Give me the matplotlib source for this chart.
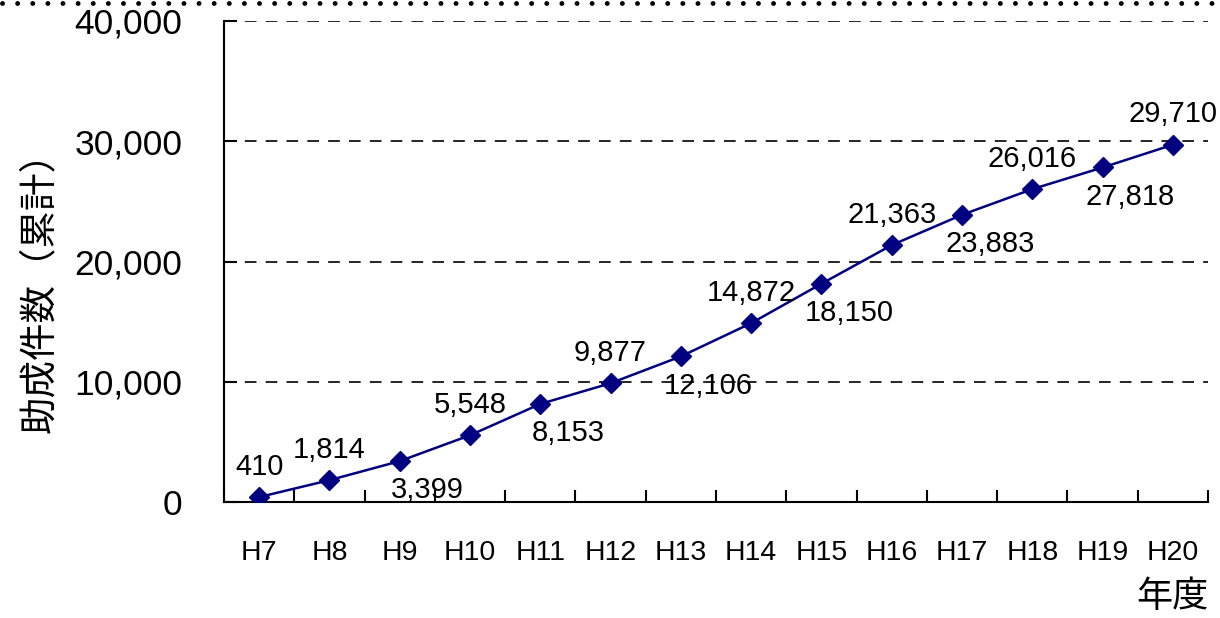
import matplotlib
matplotlib.use("Agg")
import matplotlib.pyplot as plt
from matplotlib.lines import Line2D
from matplotlib.ticker import FuncFormatter, FixedLocator

plt.rcParams["font.family"] = ["Liberation Sans", "Noto Sans CJK JP", "DejaVu Sans"]

years = ["H7", "H8", "H9", "H10", "H11", "H12", "H13", "H14", "H15", "H16", "H17", "H18", "H19", "H20"]
counts = [410, 1814, 3399, 5548, 8153, 9877, 12106, 14872, 18150, 21363, 23883, 26016, 27818, 29710]
label_above = [True, True, False, True, False, True, False, True, False, True, False, True, False, True]

NAVY = "#000080"

fig = plt.figure(figsize=(12.2, 6.18), dpi=100)
ax = fig.add_axes([224 / 1220, 1 - 502 / 618, (1208 - 224) / 1220, (502 - 21) / 618])

x = list(range(len(years)))
ax.plot(x, counts, color=NAVY, linewidth=1.8, marker="D", markersize=10, zorder=3)

# labels alternate above / below-right of the points
for i, (v, up) in enumerate(zip(counts, label_above)):
    off = (0, 22) if up else (20, -21)
    ax.annotate(f"{v:,}", (i, v), textcoords="offset points",
                xytext=off, ha="center", va="center",
                fontsize=21, color="black", zorder=4)

ax.set_xlim(-0.5, len(years) - 0.5)
ax.set_ylim(0, 40000)
ax.set_yticks([0, 10000, 20000, 30000, 40000])
ax.yaxis.set_major_formatter(FuncFormatter(lambda v, p: f"{int(v):,}"))
ax.set_xticks(x)
ax.set_xticklabels(years)
ax.xaxis.set_minor_locator(FixedLocator([k + 0.5 for k in range(-1, len(years))]))

ax.tick_params(axis="x", which="major", length=0, pad=27, labelsize=20.5)
ax.tick_params(axis="x", which="minor", direction="in", length=8.5, width=1.5)
ax.tick_params(axis="y", direction="in", length=9, width=1.5, pad=30, labelsize=25.5)

for v in [10000, 20000, 30000, 40000]:
    ax.axhline(v, color="black", linestyle=(0, (7, 5.5)), linewidth=1.2, zorder=1)

ax.spines["top"].set_visible(False)
ax.spines["right"].set_visible(False)
ax.spines["left"].set_linewidth(1.5)
ax.spines["bottom"].set_linewidth(1.5)

fig.text(40 / 1220, 1 - 283 / 618, "助成件数（累計）", rotation=90, ha="center", va="center",
         fontsize=27, family=["Noto Sans CJK JP", "DejaVu Sans"])
fig.text(1208 / 1220, 1 - 597 / 618, "年度", ha="right", va="center",
         fontsize=26, family=["Noto Sans CJK JP", "DejaVu Sans"])

fig.add_artist(Line2D([0.002, 1.0], [1 - 3 / 618, 1 - 3 / 618], transform=fig.transFigure,
                      color="black", linewidth=3.5, linestyle=(0, (0.01, 3.1)),
                      dash_capstyle="round"))

fig.savefig("out.png", dpi=100)
